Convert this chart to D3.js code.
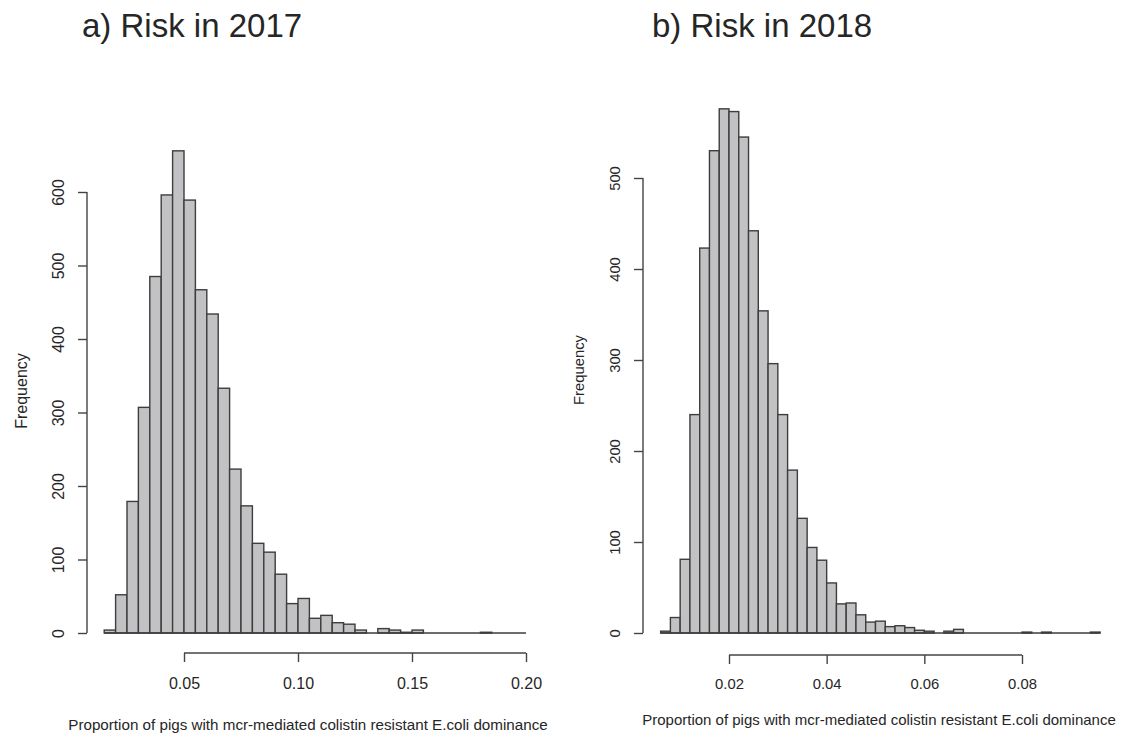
<!DOCTYPE html>
<html>
<head>
<meta charset="utf-8">
<script src="https://cdn.jsdelivr.net/npm/d3@7"></script>
<style>
  body { margin: 0; background: #fff; }
  svg { display: block; font-family: "Liberation Sans", Arial, sans-serif; }
  .bar { fill: #c2c2c5; stroke: #3d3d3d; stroke-width: 1.4; }
  .axis line, .axis path { stroke: #444; stroke-width: 1.4; fill: none; }
  text { fill: #262626; }
</style>
</head>
<body>
<svg id="chart"></svg>
<script>
// ------------------------------------------------------------
// DATA
// ------------------------------------------------------------

// a) 2017: bins of 0.005 starting at 0.015
const start2017 = 0.015;
const binWidth2017 = 0.005;
const counts2017 = [4, 52, 179, 307, 485, 596, 656, 589, 467, 434,
                    333, 223, 173, 122, 110, 80, 40, 47, 20, 24,
                    14, 12, 4, 0, 6, 4, 1, 4, 0, 0,
                    0, 0, 0, 1, 0, 0, 0];
const xTicks2017 = [0.05, 0.10, 0.15, 0.20];
const yTicks2017 = [0, 100, 200, 300, 400, 500, 600];

// b) 2018: bins of 0.002 starting at 0.006
const start2018 = 0.006;
const binWidth2018 = 0.002;
const counts2018 = [2, 17, 81, 240, 423, 530, 576, 573, 545, 442,
                    354, 296, 240, 179, 126, 94, 80, 55, 32, 33,
                    20, 12, 13, 7, 8, 6, 3, 2, 0, 2,
                    4, 0, 0, 0, 0, 0, 0, 1, 0, 1,
                    0, 0, 0, 0, 1];
const xTicks2018 = [0.02, 0.04, 0.06, 0.08];
const yTicks2018 = [0, 100, 200, 300, 400, 500];

const titles = ["a) Risk in 2017", "b) Risk in 2018"];
const xTitle = "Proportion of pigs with mcr-mediated colistin resistant E.coli dominance";
const yTitle = "Frequency";

// ------------------------------------------------------------
// SVG
// ------------------------------------------------------------
const width = 1122, height = 733;
const svg = d3.select("#chart").attr("width", width).attr("height", height);

// turn start/width/counts into bins for d3
function makeBins(start, w, counts) {
  return counts.map((c, i) => ({ x0: start + i * w, x1: start + (i + 1) * w, n: c }));
}

// one panel = one R hist() call
function drawPanel(p) {
  const x = d3.scaleLinear().domain(p.xDomain).range(p.xRange);
  const y = d3.scaleLinear().domain(p.yDomain).range(p.yRange);
  const g = svg.append("g");

  // bars (zero bins only show up as the baseline)
  g.append("g").selectAll("rect")
    .data(p.bins.filter(d => d.n > 0))
    .join("rect")
      .attr("class", "bar")
      .attr("x", d => x(d.x0))
      .attr("width", d => x(d.x1) - x(d.x0))
      .attr("y", d => y(d.n))
      .attr("height", d => y(0) - y(d.n));

  g.append("line")
    .attr("x1", x(p.bins[0].x0)).attr("x2", x(p.bins[p.bins.length - 1].x1))
    .attr("y1", y(0)).attr("y2", y(0))
    .attr("stroke", "#3d3d3d").attr("stroke-width", 1.4);

  // x axis: R style, line only from first to last tick
  const xa = g.append("g").attr("class", "axis")
    .attr("transform", `translate(0,${p.xAxisY})`)
    .call(d3.axisBottom(x).tickValues(p.xTicks).tickSize(9).tickSizeOuter(0)
      .tickFormat(d3.format(p.xFormat)));
  xa.select(".domain").remove();
  xa.append("line")
    .attr("x1", x(p.xTicks[0])).attr("x2", x(p.xTicks[p.xTicks.length - 1]));
  xa.selectAll(".tick text")
    .attr("y", 0).attr("dy", null)
    .attr("transform", `translate(0,${p.xLabelY - p.xAxisY})`)
    .attr("font-size", p.tickFont).attr("font-family", null).attr("fill", "#262626");

  // y axis: labels rotated parallel to the axis
  const ya = g.append("g").attr("class", "axis")
    .attr("transform", `translate(${p.yAxisX},0)`)
    .call(d3.axisLeft(y).tickValues(p.yTicks).tickSize(9).tickSizeOuter(0));
  ya.select(".domain").remove();
  ya.append("line")
    .attr("y1", y(p.yTicks[0])).attr("y2", y(p.yTicks[p.yTicks.length - 1]));
  ya.selectAll(".tick text")
    .attr("x", 0).attr("dy", "0.35em")
    .attr("text-anchor", "middle")
    .attr("transform", `translate(${p.yLabelX - p.yAxisX},0) rotate(-90)`)
    .attr("font-size", p.tickFont).attr("font-family", null).attr("fill", "#262626");

  // axis titles
  g.append("text")
    .attr("x", p.xTitleX).attr("y", p.xTitleY)
    .attr("text-anchor", "middle").attr("font-size", p.labFont)
    .text(xTitle);
  g.append("text")
    .attr("transform", `translate(${p.yTitleX},${p.yTitleY}) rotate(-90)`)
    .attr("dy", "0.35em")
    .attr("text-anchor", "middle").attr("font-size", p.tickFont)
    .text(yTitle);

  // panel title
  g.append("text")
    .attr("x", p.titleX).attr("y", 37)
    .attr("font-size", 33)
    .text(p.title);
}

drawPanel({
  bins: makeBins(start2017, binWidth2017, counts2017),
  xDomain: [0.05, 0.20], xRange: [184, 526],
  yDomain: [0, 600], yRange: [633, 192],
  xTicks: xTicks2017, yTicks: yTicks2017, xFormat: ".2f",
  xAxisY: 653, xLabelY: 689, yAxisX: 87, yLabelX: 58,
  xTitleX: 308, xTitleY: 730, yTitleX: 21, yTitleY: 391,
  tickFont: 16, labFont: 15.2,
  title: titles[0], titleX: 82
});

drawPanel({
  bins: makeBins(start2018, binWidth2018, counts2018),
  xDomain: [0.02, 0.08], xRange: [729, 1022],
  yDomain: [0, 500], yRange: [633, 178],
  xTicks: xTicks2018, yTicks: yTicks2018, xFormat: ".2f",
  xAxisY: 655, xLabelY: 689, yAxisX: 643, yLabelX: 615,
  xTitleX: 879, xTitleY: 725, yTitleX: 579, yTitleY: 370,
  tickFont: 14.8, labFont: 15,
  title: titles[1], titleX: 652
});
</script>
</body>
</html>
